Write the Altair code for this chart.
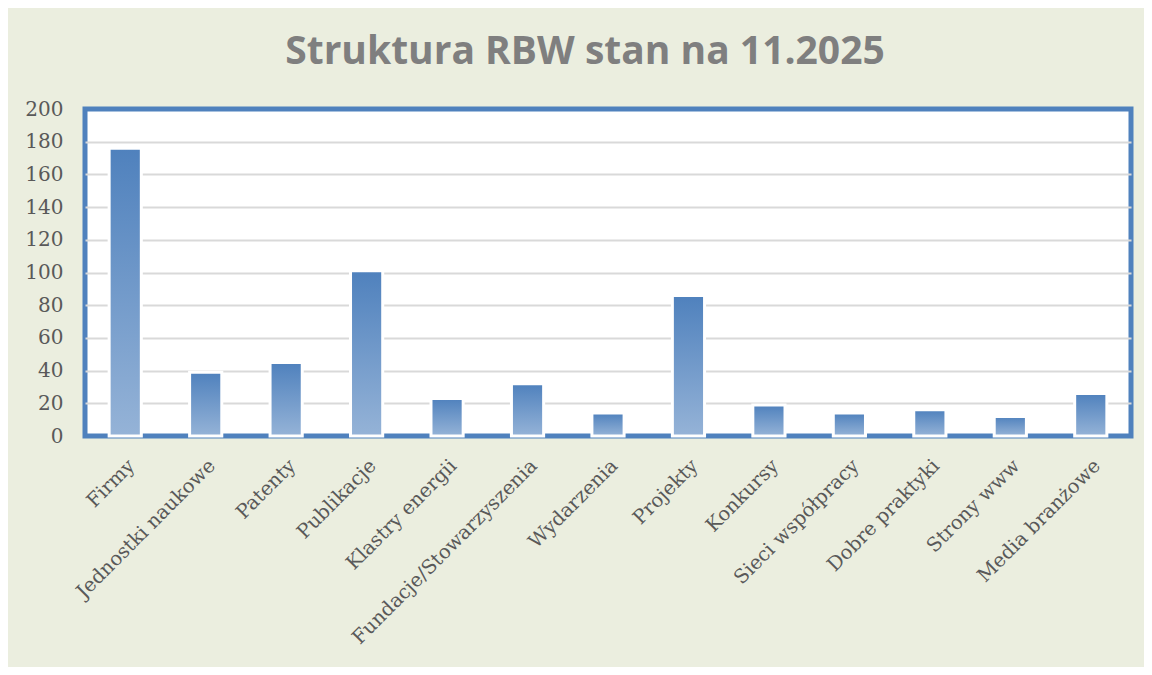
import altair as alt
import pandas as pd

categories = ["Firmy", "Jednostki naukowe", "Patenty", "Publikacje", "Klastry energii",
              "Fundacje/Stowarzyszenia", "Wydarzenia", "Projekty", "Konkursy",
              "Sieci współpracy", "Dobre praktyki", "Strony www", "Media branżowe"]
values = [176, 39, 45, 101, 23, 32, 14, 86, 19, 14, 16, 12, 26]
y_ticks = [0, 20, 40, 60, 80, 100, 120, 140, 160, 180, 200]

df = pd.DataFrame({"kategoria": categories, "liczba": values})

bar_fill = alt.Gradient(
    gradient="linear",
    x1=0, y1=0, x2=0, y2=1,
    stops=[alt.GradientStop(color="#4F81BD", offset=0),
           alt.GradientStop(color="#95B3D7", offset=1)],
)

chart = alt.Chart(df).mark_bar(
    color=bar_fill, stroke="white", strokeWidth=3
).encode(
    x=alt.X("kategoria:N", sort=categories, title=None,
            scale=alt.Scale(paddingInner=0.6, paddingOuter=0.3),
            axis=alt.Axis(labelAngle=-45, labelFont="DejaVu Serif", labelFontSize=19.5,
                          labelColor="#595959", labelPadding=20, ticks=False,
                          domain=False, labelLimit=400)),
    y=alt.Y("liczba:Q", title=None,
            scale=alt.Scale(domain=[0, 200], nice=False),
            axis=alt.Axis(values=y_ticks, labelFont="DejaVu Serif", labelFontSize=20,
                          labelColor="#595959", labelPadding=22, ticks=False,
                          domain=False, gridColor="#D9D9D9", gridWidth=2,
                          gridOpacity=alt.expr("datum.value == 0 || datum.value == 200 ? 0 : 1"))),
).properties(
    width=1046,
    height=327,
    title=alt.TitleParams("Struktura RBW stan na 11.2025", font="Open Sans",
                          fontSize=39, fontWeight="bold", color="#7F7F7F",
                          anchor="middle", offset=27, dx=-23),
    autosize=alt.AutoSizeParams(type="none"),
    padding={"left": 77, "top": 101, "right": 13, "bottom": 231},
).configure(
    background="#EBEEDF",
).configure_view(
    fill="white", stroke="#4F81BD", strokeWidth=5,
)

chart.save("out.html", embed_options={"renderer": "svg", "actions": False})
